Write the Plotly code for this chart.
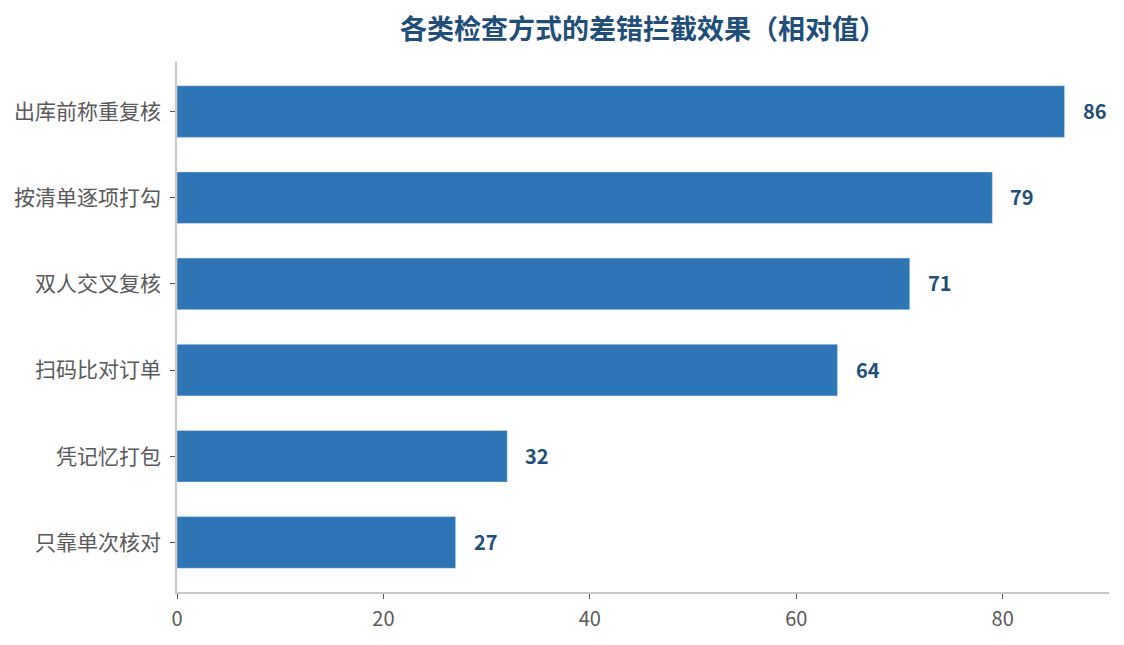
import plotly.graph_objects as go

methods = ['出库前称重复核', '按清单逐项打勾', '双人交叉复核', '扫码比对订单', '凭记忆打包', '只靠单次核对']
scores = [86, 79, 71, 64, 32, 27]

FONT = 'Noto Sans CJK SC'
BAR_COLOR = '#2E75B6'
DARK = '#1F4E79'
GREY = '#595959'

fig = go.Figure()
fig.add_trace(
    go.Bar(x=scores, y=methods, orientation='h', marker_color=BAR_COLOR,
           width=0.6, hoverinfo='x+y')
)

# value labels to the right of each bar
for m, s in zip(methods, scores):
    fig.add_annotation(x=s, y=m, text='<b>%d</b>' % s, showarrow=False,
                       xanchor='left', xshift=16, yshift=1,
                       font=dict(family=FONT, size=20, color=DARK))

# page body adds an 8px offset, so margins are shifted to compensate
fig.update_layout(
    width=1124, height=645,
    margin=dict(l=169, r=23, t=54, b=61),
    plot_bgcolor='white', paper_bgcolor='white',
    showlegend=False,
    title=dict(text='<b>各类检查方式的差错拦截效果（相对值）</b>', x=0.565, xref='container',
               xanchor='center', y=0.966, yanchor='middle',
               font=dict(family=FONT, size=27, color=DARK)),
    font=dict(family=FONT, color=GREY),
)
fig.update_xaxes(range=[0, max(scores) * 1.05], tickvals=[0, 20, 40, 60, 80],
                 showgrid=False, zeroline=False, showline=True, linecolor='#c8c8c8',
                 linewidth=2, ticks='outside', ticklen=5, tickcolor=GREY,
                 ticklabelstandoff=3, automargin=False,
                 tickfont=dict(size=20, color=GREY))
fig.update_yaxes(categoryorder='array', categoryarray=methods[::-1],
                 range=[-0.575, len(methods) - 0.425],
                 showgrid=False, showline=True, linecolor='#c8c8c8', linewidth=1.5,
                 ticks='outside', ticklen=5, tickcolor=GREY, ticklabelstandoff=5,
                 automargin=False, tickfont=dict(size=21, color=GREY))

fig.write_html('out.html')
